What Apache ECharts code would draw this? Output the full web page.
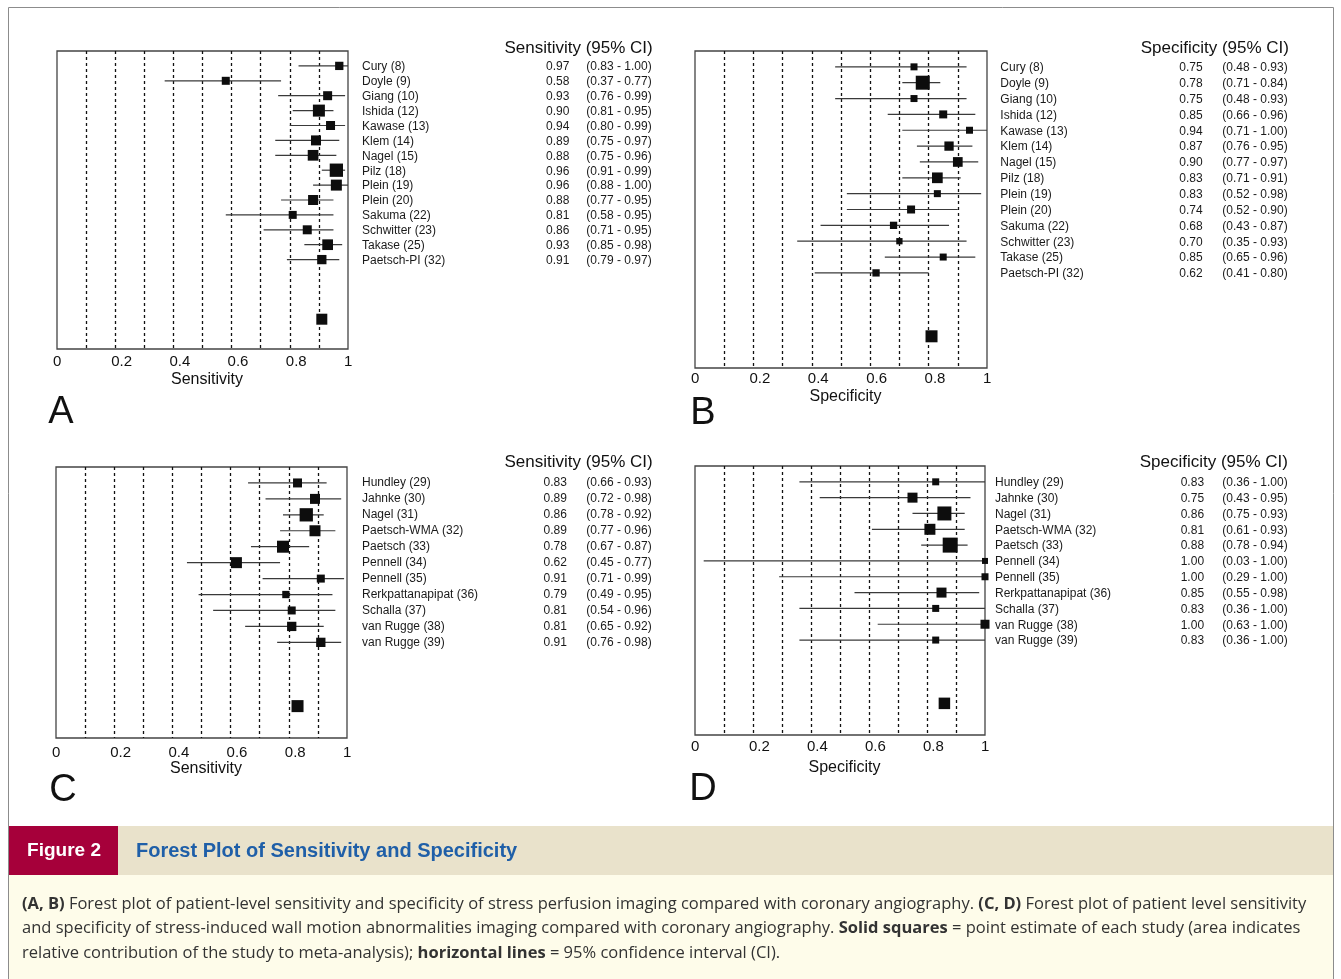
<!DOCTYPE html>
<html><head><meta charset="utf-8">
<script src="https://cdn.jsdelivr.net/npm/echarts@6/dist/echarts.min.js"></script>
<style>html,body{margin:0;padding:0;background:#fff}#c{width:1341px;height:979px}</style>
</head><body><div id="c"></div>
<script>
// ---------------- DATA ----------------
const xTickLabels = ['0', '0.2', '0.4', '0.6', '0.8', '1'];

const perfStudies = ['Cury (8)', 'Doyle (9)', 'Giang (10)', 'Ishida (12)', 'Kawase (13)', 'Klem (14)', 'Nagel (15)', 'Pilz (18)', 'Plein (19)', 'Plein (20)', 'Sakuma (22)', 'Schwitter (23)', 'Takase (25)', 'Paetsch-PI (32)'];
const perfSens     = [0.97, 0.58, 0.93, 0.90, 0.94, 0.89, 0.88, 0.96, 0.96, 0.88, 0.81, 0.86, 0.93, 0.91];
const perfSensLo   = [0.83, 0.37, 0.76, 0.81, 0.80, 0.75, 0.75, 0.91, 0.88, 0.77, 0.58, 0.71, 0.85, 0.79];
const perfSensHi   = [1.00, 0.77, 0.99, 0.95, 0.99, 0.97, 0.96, 0.99, 1.00, 0.95, 0.95, 0.95, 0.98, 0.97];
const perfSensWeight = [8.3, 8, 9, 12, 9, 10, 10.7, 13.3, 11, 10, 8, 9, 10.7, 9.3];
const perfSensPooled = 0.91;
const perfSensPooledWeight = 11;

const perfSpec     = [0.75, 0.78, 0.75, 0.85, 0.94, 0.87, 0.90, 0.83, 0.83, 0.74, 0.68, 0.70, 0.85, 0.62];
const perfSpecLo   = [0.48, 0.71, 0.48, 0.66, 0.71, 0.76, 0.77, 0.71, 0.52, 0.52, 0.43, 0.35, 0.65, 0.41];
const perfSpecHi   = [0.93, 0.84, 0.93, 0.96, 1.00, 0.95, 0.97, 0.91, 0.98, 0.90, 0.87, 0.93, 0.96, 0.80];
const perfSpecWeight = [7, 14, 7, 8, 7, 9.3, 9.7, 10.7, 7, 8, 7.3, 6.3, 7, 7.3];
const perfSpecPooled = 0.81;
const perfSpecPooledWeight = 12;

const wmStudies = ['Hundley (29)', 'Jahnke (30)', 'Nagel (31)', 'Paetsch-WMA (32)', 'Paetsch (33)', 'Pennell (34)', 'Pennell (35)', 'Rerkpattanapipat (36)', 'Schalla (37)', 'van Rugge (38)', 'van Rugge (39)'];
const wmSens     = [0.83, 0.89, 0.86, 0.89, 0.78, 0.62, 0.91, 0.79, 0.81, 0.81, 0.91];
const wmSensLo   = [0.66, 0.72, 0.78, 0.77, 0.67, 0.45, 0.71, 0.49, 0.54, 0.65, 0.76];
const wmSensHi   = [0.93, 0.98, 0.92, 0.96, 0.87, 0.77, 0.99, 0.95, 0.96, 0.92, 0.98];
const wmSensWeight = [9, 10, 13.3, 11, 12, 11, 8, 7.3, 8, 9.3, 9.3];
const wmSensPooled = 0.83;
const wmSensPooledWeight = 12;

const wmSpec     = [0.83, 0.75, 0.86, 0.81, 0.88, 1.00, 1.00, 0.85, 0.83, 1.00, 0.83];
const wmSpecLo   = [0.36, 0.43, 0.75, 0.61, 0.78, 0.03, 0.29, 0.55, 0.36, 0.63, 0.36];
const wmSpecHi   = [1.00, 0.95, 0.93, 0.93, 0.94, 1.00, 1.00, 0.98, 1.00, 1.00, 1.00];
const wmSpecWeight = [7, 10, 14, 11, 15, 6, 7, 10, 7, 9, 7];
const wmSpecPooled = 0.86;
const wmSpecPooledWeight = 11.5;

const figureNumber = 'Figure 2';
const figureTitle = 'Forest Plot of Sensitivity and Specificity';
// caption lines: [text, bold?] segments
const captionLines = [
  [['(A, B)', true], [' Forest plot of patient-level sensitivity and specificity of stress perfusion imaging compared with coronary angiography. ', false], ['(C, D)', true], [' Forest plot of patient level sensitivity', false]],
  [['and specificity of stress-induced wall motion abnormalities imaging compared with coronary angiography. ', false], ['Solid squares', true], [' = point estimate of each study (area indicates', false]],
  [['relative contribution of the study to meta-analysis); ', false], ['horizontal lines', true], [' = 95% confidence interval (CI).', false]]
];

// ---------------- LAYOUT ----------------
const FONT = 'Liberation Sans, Arial, Helvetica, sans-serif';
const CAP_FONT = '"Open Sans", "DejaVu Sans", sans-serif';
const panels = [
  { letter: 'A', axisName: 'Sensitivity', header: 'Sensitivity (95% CI)',
    studies: perfStudies, est: perfSens, lo: perfSensLo, hi: perfSensHi, w: perfSensWeight, pooled: perfSensPooled, pooledW: perfSensPooledWeight,
    grid: { left: 57, top: 51, width: 291, height: 298 }, labelMargin: 5, nameGap: 23,
    cols: { name: 14, val: 198, ci: 238.3 }, textDy: 1, headerPos: [652.7, 48], letterPos: [61, 413] },
  { letter: 'B', axisName: 'Specificity', header: 'Specificity (95% CI)',
    studies: perfStudies, est: perfSpec, lo: perfSpecLo, hi: perfSpecHi, w: perfSpecWeight, pooled: perfSpecPooled, pooledW: perfSpecPooledWeight,
    grid: { left: 695, top: 51, width: 292, height: 317 }, labelMargin: 3.5, nameGap: 21,
    cols: { name: 13.3, val: 192.3, ci: 235.3 }, textDy: 1, headerPos: [1289, 48], letterPos: [703, 414] },
  { letter: 'C', axisName: 'Sensitivity', header: 'Sensitivity (95% CI)',
    studies: wmStudies, est: wmSens, lo: wmSensLo, hi: wmSensHi, w: wmSensWeight, pooled: wmSensPooled, pooledW: wmSensPooledWeight,
    grid: { left: 56, top: 467, width: 291, height: 271 }, labelMargin: 7, nameGap: 19.5,
    cols: { name: 15, val: 196.6, ci: 239.3 }, textDy: 0, headerPos: [652.7, 462.7], letterPos: [63, 791] },
  { letter: 'D', axisName: 'Specificity', header: 'Specificity (95% CI)',
    studies: wmStudies, est: wmSpec, lo: wmSpecLo, hi: wmSpecHi, w: wmSpecWeight, pooled: wmSpecPooled, pooledW: wmSpecPooledWeight,
    grid: { left: 695, top: 466, width: 290, height: 269 }, labelMargin: 4.5, nameGap: 25,
    cols: { name: 10, val: 195.7, ci: 237.3 }, textDy: 1, headerPos: [1288, 462.7], letterPos: [703, 790] }
];

// fit caption font so the first line spans the caption width of the reference
function measureLine(segs, size) {
  const ctx = document.createElement('canvas').getContext('2d');
  let w = 0;
  segs.forEach(s => { ctx.font = (s[1] ? 'bold ' : '') + size + 'px ' + CAP_FONT; w += ctx.measureText(s[0]).width; });
  return w;
}
const capSize = Math.min(16.5, Math.max(13, 15 * 1294 / measureLine(captionLines[0], 15)));
const capText = captionLines.map(l => l.map(s => s[1] ? '{b|' + s[0] + '}' : s[0]).join('')).join('\n');

const grids = [], xAxes = [], yAxes = [], series = [], graphics = [];

// outer frame and caption band
graphics.push({ type: 'rect', z: -10, silent: true, shape: { x: 8.5, y: 7.5, width: 1325, height: 1000 }, style: { fill: null, stroke: '#8c8c8c', lineWidth: 1 } });
graphics.push({ type: 'rect', z: -5, silent: true, shape: { x: 9, y: 875, width: 1324, height: 110 }, style: { fill: '#fefcea' } });
graphics.push({ type: 'rect', z: -5, silent: true, shape: { x: 118, y: 826, width: 1215, height: 49 }, style: { fill: '#e9e2cb' } });
graphics.push({ type: 'rect', z: -5, silent: true, shape: { x: 9, y: 826, width: 109, height: 49 }, style: { fill: '#a6003a' } });
graphics.push({ type: 'text', x: 64, y: 851, style: { text: figureNumber, fill: '#fff', font: 'bold 19px ' + FONT, align: 'center', verticalAlign: 'middle' } });
graphics.push({ type: 'text', x: 136, y: 851, style: { text: figureTitle, fill: '#1f5fa8', font: 'bold 20px ' + FONT, align: 'left', verticalAlign: 'middle' } });
graphics.push({ type: 'text', x: 22, y: 892, style: {
  text: capText, fill: '#333', fontSize: capSize, fontFamily: CAP_FONT, lineHeight: 24.5, align: 'left', verticalAlign: 'top',
  rich: { b: { fontWeight: 'bold', fontSize: capSize, fontFamily: CAP_FONT, fill: '#333', lineHeight: 24.5 } }
} });

panels.forEach((p, gi) => {
  const n = p.studies.length;
  const pooledRow = n + 3;
  grids.push(Object.assign({ show: true, borderColor: '#444', borderWidth: 1.3, backgroundColor: 'transparent', containLabel: false }, p.grid));
  xAxes.push({
    gridIndex: gi, type: 'value', min: 0, max: 1, interval: 0.1,
    axisLine: { show: false }, axisTick: { show: false },
    splitLine: { show: true, showMinLine: false, showMaxLine: false, lineStyle: { color: '#111', width: 1.3, type: [3, 3] } },
    axisLabel: {
      show: true, margin: p.labelMargin, fontSize: 15, fontFamily: FONT, color: '#111', align: 'left', padding: [0, 0, 0, -4],
      formatter: v => { const k = Math.round(v * 10); return k % 2 === 0 ? xTickLabels[k / 2] : ''; }
    },
    name: p.axisName, nameLocation: 'middle', nameGap: p.nameGap,
    nameTextStyle: { fontSize: 16, fontFamily: FONT, color: '#111', padding: [0, 0, 0, 9] }
  });
  yAxes.push({ gridIndex: gi, type: 'value', min: -1, max: n + 5, inverse: true, show: false });

  // CI lines
  series.push({
    type: 'custom', xAxisIndex: gi, yAxisIndex: gi, silent: true,
    data: p.studies.map((s, i) => [p.lo[i], p.hi[i], i]),
    encode: { x: [0, 1], y: 2 },
    renderItem: (params, api) => {
      const a = api.coord([api.value(0), api.value(2)]);
      const b = api.coord([api.value(1), api.value(2)]);
      return { type: 'line', shape: { x1: a[0], y1: a[1], x2: b[0], y2: b[1] }, style: { stroke: '#3a3a3a', lineWidth: 1.2 } };
    }
  });
  // study squares
  series.push({
    type: 'scatter', xAxisIndex: gi, yAxisIndex: gi, silent: true, symbol: 'rect',
    data: p.est.map((v, i) => [v, i]),
    symbolSize: (val, prm) => p.w[prm.dataIndex],
    itemStyle: { color: '#0d0d0d', opacity: 1 }, z: 4
  });
  // pooled square
  series.push({
    type: 'scatter', xAxisIndex: gi, yAxisIndex: gi, silent: true, symbol: 'rect',
    data: [[p.pooled, pooledRow]], symbolSize: p.pooledW,
    itemStyle: { color: '#0d0d0d', opacity: 1 }, z: 4
  });
  // right-hand text columns
  series.push({
    type: 'custom', xAxisIndex: gi, yAxisIndex: gi, silent: true, clip: false,
    data: p.studies.map((s, i) => [0, i]),
    encode: { x: 0, y: 1 },
    renderItem: (params, api) => {
      const i = params.dataIndex;
      const cs = params.coordSys;
      const right = cs.x + cs.width;
      const y = api.coord([0, api.value(1)])[1] + p.textDy;
      const st = { fill: '#1a1a1a', font: '12px ' + FONT, align: 'left', verticalAlign: 'middle' };
      return { type: 'group', children: [
        { type: 'text', style: Object.assign({ x: right + p.cols.name, y: y, text: p.studies[i] }, st) },
        { type: 'text', style: Object.assign({ x: right + p.cols.val, y: y, text: p.est[i].toFixed(2) }, st) },
        { type: 'text', style: Object.assign({ x: right + p.cols.ci, y: y, text: '(' + p.lo[i].toFixed(2) + ' - ' + p.hi[i].toFixed(2) + ')' }, st) }
      ] };
    }
  });
  graphics.push({ type: 'text', x: p.headerPos[0], y: p.headerPos[1], style: { text: p.header, fill: '#111', font: '17px ' + FONT, align: 'right', verticalAlign: 'middle' } });
  graphics.push({ type: 'text', x: p.letterPos[0], y: p.letterPos[1], style: { text: p.letter, fill: '#111', font: '38px ' + FONT, align: 'center', verticalAlign: 'middle' } });
});

const chart = echarts.init(document.getElementById('c'), null, { renderer: 'canvas' });
chart.setOption({
  animation: false,
  backgroundColor: '#ffffff',
  grid: grids, xAxis: xAxes, yAxis: yAxes, series: series, graphic: graphics
});
</script>
</body></html>
